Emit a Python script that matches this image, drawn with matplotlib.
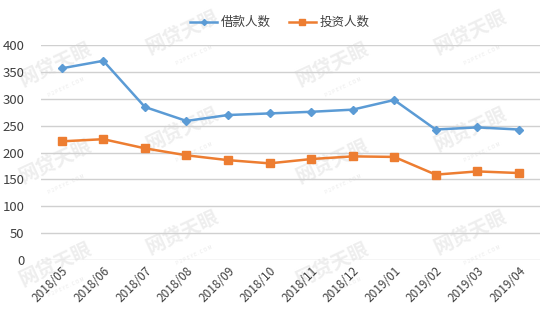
import matplotlib
matplotlib.use("Agg")
import matplotlib.pyplot as plt

plt.rcParams['font.family'] = ['Noto Sans CJK SC', 'DejaVu Sans']

months = ["2018/05", "2018/06", "2018/07", "2018/08", "2018/09", "2018/10",
          "2018/11", "2018/12", "2019/01", "2019/02", "2019/03", "2019/04"]
borrowers = [357, 371, 285, 259, 270, 273, 276, 280, 298, 243, 247, 243]
investors = [221, 225, 208, 195, 186, 180, 188, 193, 192, 159, 165, 162]
series_names = ["借款人数", "投资人数"]
y_ticks = [0, 50, 100, 150, 200, 250, 300, 350, 400]

fig = plt.figure(figsize=(5.54, 3.23), dpi=100)

# faint background watermark, drawn beneath the chart
for wx, wy in [(0.10, 0.80), (0.33, 0.90), (0.60, 0.80), (0.85, 0.90),
               (0.10, 0.50), (0.33, 0.60), (0.60, 0.50), (0.85, 0.60),
               (0.10, 0.18), (0.33, 0.28), (0.60, 0.18), (0.85, 0.28)]:
    fig.text(wx, wy, "网贷天眼", fontsize=14, color="#EEEEEE", rotation=25,
             ha="center", va="center", zorder=-5, fontweight="bold")
    fig.text(wx + 0.02, wy - 0.07, "P 2 P E Y E . C O M", fontsize=3.5,
             color="#EAEAEA", rotation=25, ha="center", va="center", zorder=-5)

ax = fig.add_axes([0.074, 0.195, 0.90, 0.665])
ax.patch.set_alpha(0)

x = list(range(len(months)))
ax.plot(x, borrowers, color="#5B9BD5", lw=1.8, marker="D", ms=3.8,
        label=series_names[0], zorder=3)
ax.plot(x, investors, color="#ED7D31", lw=1.8, marker="s", ms=5.5,
        label=series_names[1], zorder=3)

ax.set_xlim(-0.5, len(months) - 0.5)
ax.set_ylim(0, 400)
ax.set_yticks(y_ticks)
ax.set_xticks(x)
ax.set_xticklabels(months, rotation=45, ha="right", rotation_mode="anchor",
                   fontsize=8.5, color="#404040")
ax.tick_params(axis="y", labelsize=9.5, labelcolor="#404040", length=0, pad=12)
ax.tick_params(axis="x", length=0, pad=3)
ax.grid(axis="y", color="#D0D0D0", lw=1)
ax.set_axisbelow(True)
for s in ax.spines.values():
    s.set_visible(False)

fig.legend(loc="upper center", bbox_to_anchor=(0.505, 0.985), ncol=2,
           frameon=False, fontsize=9, handlelength=2.2, columnspacing=1.4,
           handletextpad=0.3, labelcolor="#404040", markerscale=0.8)

fig.savefig("out.png", dpi=100)
